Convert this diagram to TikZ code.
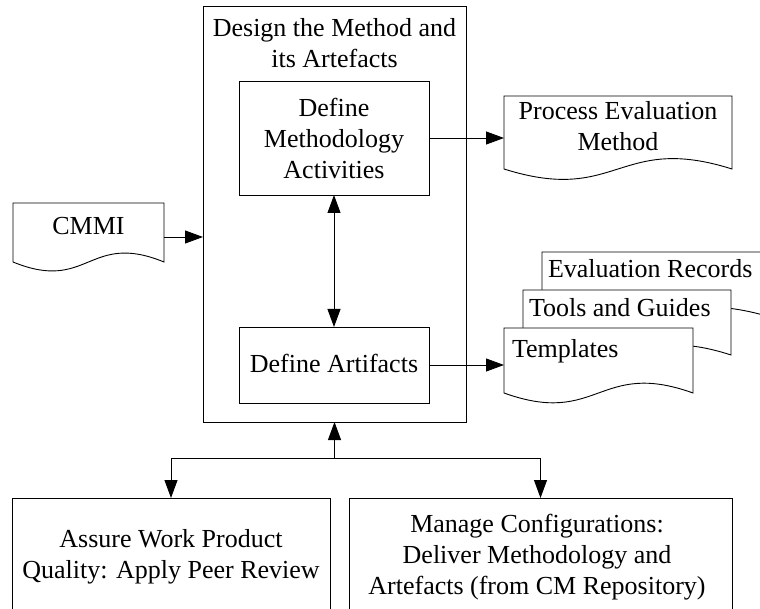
\documentclass[tikz,border=0pt]{standalone}
\usepackage{fontspec}
\setmainfont{Liberation Serif}
\usetikzlibrary{arrows.meta}
\newcommand\docoutline[5]{%
  \draw[docline] (#1,#2) -- (#3,#2) -- (#3,#4)
    .. controls ({(#1+#3)/2},{#4-#5}) and ({(#1+#3)/2},{#4+#5}) .. (#1,#4) -- cycle;}
\tikzset{
  every node/.style={font=\fontsize{26}{31}\selectfont, inner sep=0pt, outer sep=0pt},
  plainbox/.style={draw, line width=0.9pt, anchor=north west},
  docbody/.style={anchor=north west},
  docline/.style={line width=0.9pt, fill=white},
  lbl/.style={align=center, anchor=north},
  arr/.style={line width=0.9pt, -{Triangle[length=18pt,width=13pt]}},
  dblarr/.style={line width=0.9pt, {Triangle[length=18pt,width=13pt]}-{Triangle[length=18pt,width=13pt]}}
}
\begin{document}
\begin{tikzpicture}[x=1pt,y=-1pt]
\useasboundingbox (0,0) rectangle (760,609);
\clip (0,0) rectangle (760,609);
% main boxes
\node[plainbox, minimum width=263, minimum height=416] (design) at (203,6) {};
\node[lbl] (designtxt) at (334.5,15.3) {\strut Design the Method and\\\strut its Artefacts};
\node[plainbox, minimum width=190, minimum height=114] (dma) at (239,81) {};
\node[lbl] (dmatxt) at (334,95.3) {\strut Define\\\strut Methodology\\\strut Activities};
\node[plainbox, minimum width=190, minimum height=76] (da) at (239,327) {};
\node[anchor=base] (datxt) at (334,373) {Define Artifacts};
\node[plainbox, minimum width=318, minimum height=114] (assure) at (12,498) {};
\node[lbl] (assuretxt) at (171,525.3) {\strut Assure Work Product\\\strut Quality: Apply Peer Review};
\node[plainbox, minimum width=383, minimum height=114] (manage) at (349,498) {};
\node[lbl] (managetxt) at (537,510.3) {\strut Manage Configurations:\\\strut Deliver Methodology and\\\strut Artefacts (from CM Repository)};
% documents
\node[docbody, minimum width=151, minimum height=68] (cmmi) at (13,203) {};
\docoutline{13}{203}{164}{262}{31}
\node[anchor=base] (cmmitxt) at (88.5,235) {CMMI};
\node[docbody, minimum width=228, minimum height=84] (pem) at (504,96) {};
\docoutline{504}{96}{732}{169}{36}
\node[lbl] (pemtxt) at (618,98.3) {\strut Process Evaluation\\\strut Method};
\docoutline{542}{252}{770}{317}{34}
\node[anchor=base west] (evaltxt) at (548,278) {Evaluation Records};
\docoutline{523}{290}{731}{355}{34}
\node[anchor=base west] (toolstxt) at (529,317) {Tools and Guides};
\node[docbody, minimum width=189, minimum height=75] (templ) at (504,328) {};
\docoutline{504}{328}{693}{393}{34}
\node[anchor=base west] (templtxt) at (512,357) {Templates};
% connectors
\draw[arr] (cmmi.east) -- (cmmi.east -| design.west);
\draw[arr] (dma.east) -- (dma.east -| pem.west);
\draw[arr] (da.east) -- (da.east -| templ.west);
\draw[dblarr] (dma.south) -- (da.north);
\coordinate (junc) at (334.5,458);
\draw[arr] (junc) -- (design.south);
\draw[arr] (junc) -| (assure.north);
\draw[arr] (junc) -| (manage.north);
\end{tikzpicture}
\end{document}
